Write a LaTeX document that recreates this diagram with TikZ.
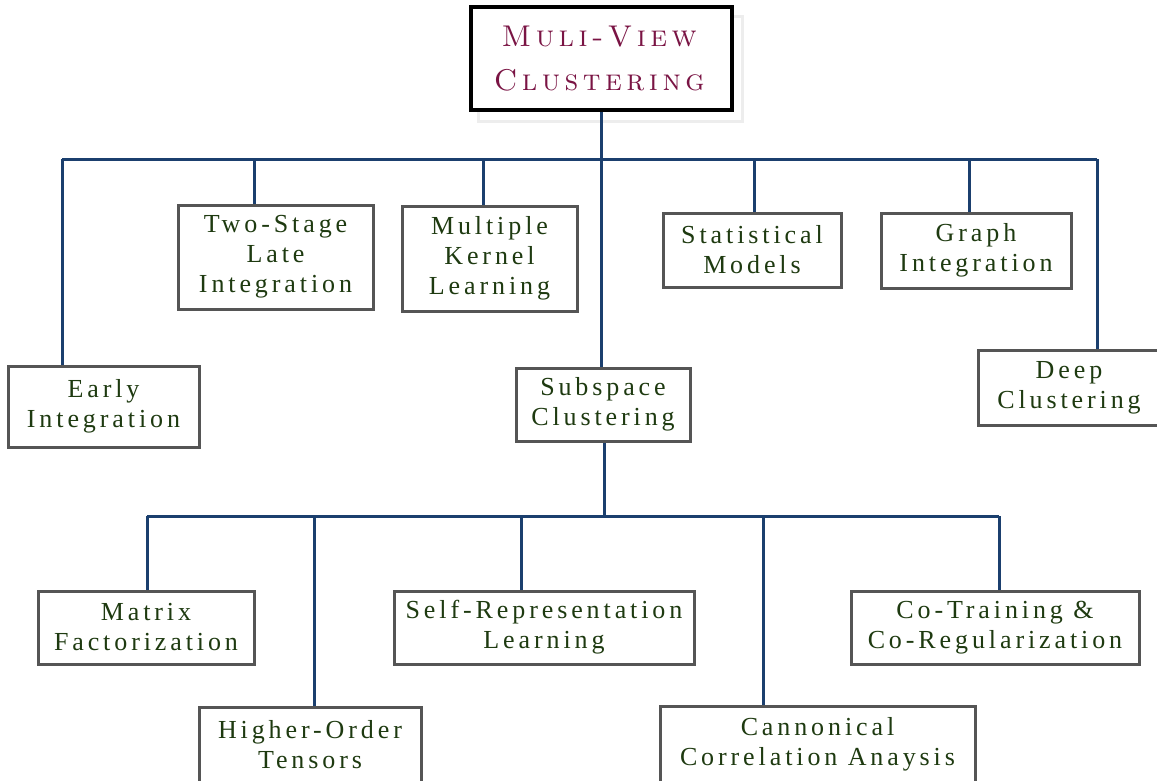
\documentclass[tikz,border=0pt]{standalone}
\usepackage{fontspec}
\newfontfamily\bodyfont[LetterSpace=15]{Liberation Serif}
\newfontfamily\titlefont[LetterSpace=15,SmallCapsFont=lmromancaps10-regular.otf,SmallCapsFeatures={LetterSpace=15}]{lmroman10-regular.otf}
\definecolor{navy}{HTML}{1B3F6E}
\definecolor{boxgray}{HTML}{555555}
\definecolor{txtgreen}{HTML}{1E3A10}
\definecolor{maroon}{HTML}{7A1444}
\begin{document}
\begin{tikzpicture}[x=1pt,y=-1pt,
  box/.style={draw=boxgray,line width=3pt,fill=white,align=center,text=txtgreen,
    font=\bodyfont\fontsize{26}{30}\selectfont,inner sep=0pt},
  conn/.style={draw=navy,line width=3pt}]
\useasboundingbox (0,0) rectangle (1157,780);
\fill[white] (0,0) rectangle (1157,780);
% ghost of title
\draw[black!7,line width=3pt] (478,16) rectangle (742,121);
\node[draw=black,line width=3.5pt,fill=white,minimum width=261pt,minimum height=103pt,inner sep=0pt,
  align=center,text=maroon,font=\titlefont\fontsize{30}{44}\selectfont]
  (title) at (601.5,58.5) {\textsc{Muli-View}\\\textsc{Clustering}};
% level 1 nodes
\node[box,minimum width=191pt,minimum height=81pt] (early) at (103.5,406.5) {Early\\Integration};
\node[box,minimum width=195pt,minimum height=104pt] (twostage) at (275.5,257) {Two-Stage\\Late\\Integration};
\node[box,minimum width=175pt,minimum height=105pt] (mkl) at (489.5,258.5) {Multiple\\Kernel\\Learning};
\node[box,minimum width=178pt,minimum height=74pt] (stat) at (752,250) {Statistical\\Models};
\node[box,minimum width=190pt,minimum height=75pt] (graph) at (976,250.5) {Graph\\Integration};
\node[box,minimum width=190pt,minimum height=75pt] (deep) at (1073,387.5) {\hspace*{-8pt}Deep\\\hspace*{-8pt}Clustering};
\node[box,minimum width=174pt,minimum height=73pt] (subspace) at (603,404.5) {Subspace\\Clustering};
% level 2 nodes
\node[box,minimum width=216pt,minimum height=73pt] (matrix) at (146,627.5) {Matrix\\Factorization};
\node[box,minimum width=222pt,minimum height=76pt] (tensor) at (310,745) {Higher-Order\\Tensors};
\node[box,minimum width=300pt,minimum height=73pt] (selfrep) at (544,627.5) {Self-Representation\\Learning};
\node[box,minimum width=315pt,minimum height=76pt] (cca) at (817.5,744) {Cannonical\\Correlation Anaysis};
\node[box,minimum width=288pt,minimum height=73pt] (cotrain) at (995,627.5) {Co-Training \&\\Co-Regularization};
% bus coordinates
\coordinate (busL) at (62,159);
\coordinate (busR) at (1097,159);
\coordinate (b2) at (254,159);
\coordinate (b3) at (483,159);
\coordinate (b4) at (754,159);
\coordinate (b5) at (969,159);
\coordinate (sbL) at (147,516);
\coordinate (sbR) at (999,516);
\coordinate (sbM) at (604,516);
\coordinate (s2) at (314,516);
\coordinate (s3) at (521,516);
\coordinate (s4) at (763,516);
% connectors
\draw[conn] (busL) -- (busR);
\draw[conn] (title.south -| 601,0) -- (subspace.north -| 601,0);
\draw[conn] (busL) -- (busL |- early.north);
\draw[conn] (b2) -- (b2 |- twostage.north);
\draw[conn] (b3) -- (b3 |- mkl.north);
\draw[conn] (b4) -- (b4 |- stat.north);
\draw[conn] (b5) -- (b5 |- graph.north);
\draw[conn] (busR) -- (busR |- deep.north);
\draw[conn] (subspace.south -| sbM) -- (sbM);
\draw[conn] (sbL) -- (sbR);
\draw[conn] (sbL) -- (sbL |- matrix.north);
\draw[conn] (s2) -- (s2 |- tensor.north);
\draw[conn] (s3) -- (s3 |- selfrep.north);
\draw[conn] (s4) -- (s4 |- cca.north);
\draw[conn] (sbR) -- (sbR |- cotrain.north);
\end{tikzpicture}
\end{document}
